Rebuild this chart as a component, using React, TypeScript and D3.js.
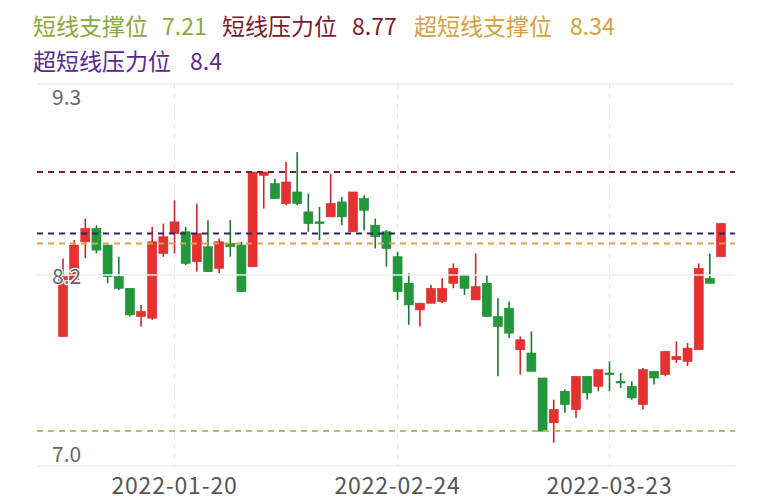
import React from "react";
import * as d3 from "d3";

const dates = [
  "2022-01-06","2022-01-07","2022-01-10","2022-01-11","2022-01-12","2022-01-13","2022-01-14","2022-01-17","2022-01-18","2022-01-19",
  "2022-01-20","2022-01-21","2022-01-24","2022-01-25","2022-01-26","2022-01-27","2022-01-28","2022-02-07","2022-02-08","2022-02-09",
  "2022-02-10","2022-02-11","2022-02-14","2022-02-15","2022-02-16","2022-02-17","2022-02-18","2022-02-21","2022-02-22","2022-02-23",
  "2022-02-24","2022-02-25","2022-02-28","2022-03-01","2022-03-02","2022-03-03","2022-03-04","2022-03-07","2022-03-08","2022-03-09",
  "2022-03-10","2022-03-11","2022-03-14","2022-03-15","2022-03-16","2022-03-17","2022-03-18","2022-03-21","2022-03-22","2022-03-23",
  "2022-03-24","2022-03-25","2022-03-28","2022-03-29","2022-03-30","2022-03-31","2022-04-01","2022-04-06","2022-04-07","2022-04-08",
];
const opens = [
  7.78, 8.12, 8.35, 8.43, 8.33, 8.14, 8.07, 7.90, 7.89, 8.28,
  8.40, 8.41, 8.23, 8.32, 8.19, 8.34, 8.33, 8.20, 8.75, 8.70,
  8.58, 8.65, 8.53, 8.47, 8.50, 8.59, 8.41, 8.61, 8.45, 8.41,
  8.26, 8.10, 7.94, 7.98, 7.99, 8.10, 8.15, 8.00, 8.10, 7.90,
  7.95, 7.70, 7.68, 7.53, 7.26, 7.45, 7.34, 7.54, 7.48, 7.56,
  7.51, 7.48, 7.37, 7.57, 7.55, 7.64, 7.63, 7.70, 8.13, 8.26,
];
const closes = [
  8.14, 8.33, 8.43, 8.30, 8.14, 8.07, 7.91, 7.93, 8.35, 8.38,
  8.47, 8.22, 8.40, 8.17, 8.35, 8.32, 8.05, 8.77, 8.77, 8.61,
  8.71, 8.58, 8.46, 8.46, 8.58, 8.50, 8.65, 8.54, 8.38, 8.31,
  8.05, 7.97, 7.98, 8.07, 8.07, 8.19, 8.07, 8.08, 7.90, 7.84,
  7.80, 7.76, 7.57, 7.21, 7.34, 7.37, 7.54, 7.44, 7.58, 7.55,
  7.50, 7.41, 7.58, 7.53, 7.69, 7.66, 7.71, 8.19, 8.10, 8.46,
];
const highs = [
  8.25, 8.36, 8.49, 8.45, 8.33, 8.26, 8.07, 7.97, 8.44, 8.46,
  8.60, 8.44, 8.58, 8.48, 8.37, 8.48, 8.35, 8.77, 8.77, 8.73,
  8.83, 8.89, 8.64, 8.56, 8.76, 8.62, 8.65, 8.63, 8.49, 8.42,
  8.29, 8.16, 7.98, 8.09, 8.13, 8.22, 8.15, 8.28, 8.15, 8.01,
  7.99, 7.78, 7.81, 7.53, 7.40, 7.46, 7.54, 7.54, 7.58, 7.63,
  7.56, 7.51, 7.59, 7.57, 7.69, 7.75, 7.74, 8.22, 8.28, 8.46,
];
const lows = [
  7.78, 8.11, 8.25, 8.28, 8.10, 8.06, 7.90, 7.84, 7.88, 8.26,
  8.28, 8.21, 8.17, 8.17, 8.16, 8.26, 8.05, 8.20, 8.55, 8.61,
  8.57, 8.57, 8.41, 8.36, 8.50, 8.45, 8.41, 8.42, 8.31, 8.20,
  8.00, 7.85, 7.84, 7.98, 7.98, 8.07, 8.03, 8.00, 7.90, 7.54,
  7.77, 7.55, 7.57, 7.21, 7.14, 7.32, 7.29, 7.40, 7.45, 7.45,
  7.47, 7.40, 7.34, 7.49, 7.54, 7.62, 7.60, 7.70, 8.10, 8.26,
];

const levelNames = ["短线支撑位", "短线压力位", "超短线支撑位", "超短线压力位"];
const levelValues = [7.21, 8.77, 8.34, 8.4];
const levelLabels = ["7.21", "8.77", "8.34", "8.4"];

const yTicks = [9.3, 8.15, 7.0];
const yTickLabels = ["9.3", "8.2", "7.0"];
const xTickDates = ["2022-01-20", "2022-02-24", "2022-03-23"];

const levelTextColors = ["#8aa83e", "#7a1a30", "#d6a040", "#5a2a88"];
const levelLineColors = ["#b3c266", "#6e1e3c", "#dba24a", "#2f2560"];
const legendPos = [
  { x: 33, nx: 162, y: 25 },
  { x: 222, nx: 352, y: 25 },
  { x: 414, nx: 570, y: 25 },
  { x: 33, nx: 190, y: 60 },
];

const UP = "#e5312f";
const DOWN = "#22983a";
const FONT = "'Noto Sans CJK SC', 'Noto Sans', sans-serif";

export default function App() {
  const W = 780, H = 500;
  const left = 37, right = 735;
  const x = d3.scalePoint<string>().domain(dates).range([63, 721]);
  const y = d3.scaleLinear().domain([7.0, 9.3]).range([466, 84]);
  const bw = 9;

  const candles = dates.map((d, i) => ({
    d, o: opens[i], c: closes[i], h: highs[i], l: lows[i],
  }));

  return (
    <svg width={W} height={H} style={{ position: "absolute", left: 0, top: 0, background: "#fff" }} fontFamily={FONT}>
      <rect x={0} y={0} width={W} height={H} fill="#fff" />
      {/* legend */}
      {levelNames.map((n, i) => (
        <g key={n} fontSize={23} fill={levelTextColors[i]}>
          <text x={legendPos[i].x} y={legendPos[i].y} dominantBaseline="central">{n}</text>
          <text x={legendPos[i].nx} y={legendPos[i].y} dominantBaseline="central">{levelLabels[i]}</text>
        </g>
      ))}
      {/* vertical grid */}
      {xTickDates.map((d) => (
        <line key={d} x1={x(d)} x2={x(d)} y1={y(9.3)} y2={y(7.0)} stroke="#e6e6e6" strokeWidth={1.2} strokeDasharray="5 5" />
      ))}
      {/* top & bottom grid */}
      {[9.3, 7.0].map((v) => (
        <line key={v} x1={left} x2={right} y1={y(v)} y2={y(v)} stroke="#e6e6e6" strokeWidth={1.2} />
      ))}
      {/* candles */}
      {candles.map((k) => {
        const up = k.c >= k.o;
        const col = up ? UP : DOWN;
        const cx = x(k.d)!;
        const top = y(Math.max(k.o, k.c));
        const bot = y(Math.min(k.o, k.c));
        return (
          <g key={k.d}>
            <line x1={cx} x2={cx} y1={y(k.h)} y2={y(k.l)} stroke={up ? "#c92a28" : "#1b7a2e"} strokeWidth={1.6} />
            <rect x={cx - bw / 2} y={top} width={bw} height={Math.max(bot - top, 1.5)} fill={col} stroke={up ? "#d42c2a" : "#1d8734"} strokeWidth={0.6} />
          </g>
        );
      })}
      {/* mid grid line drawn over candles */}
      <line x1={left} x2={right} y1={y(8.15)} y2={y(8.15)} stroke="#eeeeee" strokeWidth={1.6} />
      {/* level dashed lines */}
      {levelValues.map((v, i) => (
        <line key={i} x1={left} x2={right} y1={y(v)} y2={y(v)} stroke={levelLineColors[i]} strokeWidth={2} strokeDasharray="6 5" />
      ))}
      {/* y labels */}
      {yTicks.map((v, i) => {
        const off = i === 0 ? 12 : i === 2 ? -13 : 0;
        return (
          <text key={v} x={52} y={y(v) + off} dominantBaseline="central" fontSize={21} fill="#666"
            stroke="#fff" strokeWidth={i === 1 ? 2.5 : 0} paintOrder="stroke">
            {yTickLabels[i]}
          </text>
        );
      })}
      {/* x labels */}
      {xTickDates.map((d) => (
        <text key={d} x={x(d)} y={484} textAnchor="middle" dominantBaseline="central" fontSize={23} letterSpacing={0.8} fill="#555">
          {d}
        </text>
      ))}
    </svg>
  );
}
